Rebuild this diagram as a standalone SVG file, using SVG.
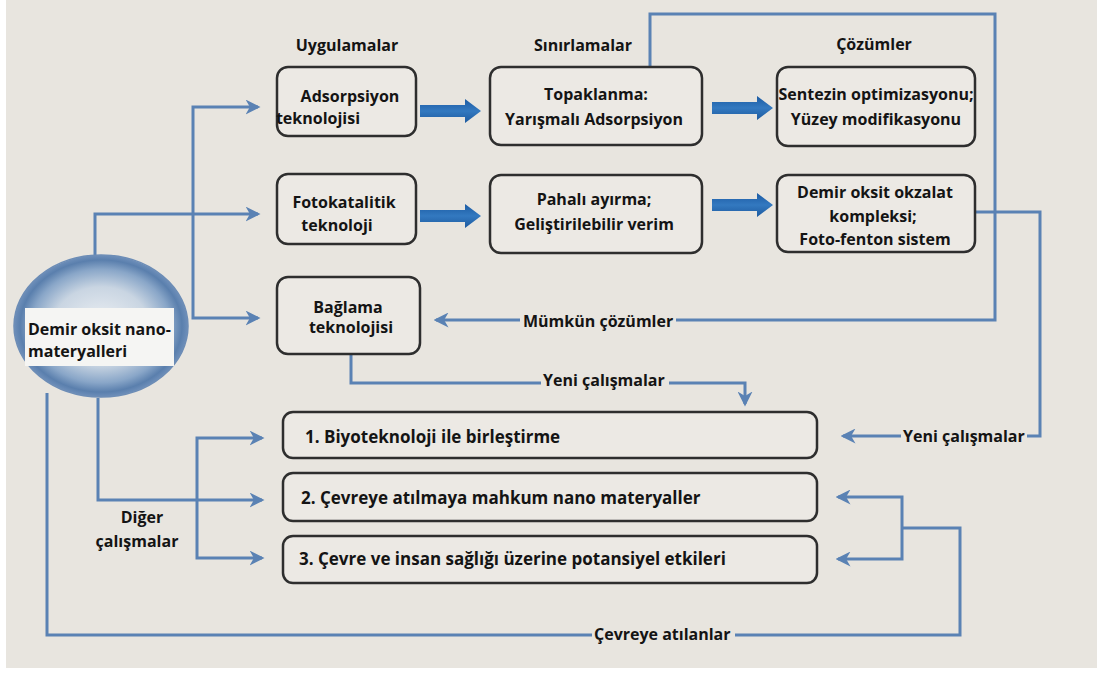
<svg xmlns="http://www.w3.org/2000/svg" width="1099" height="673" viewBox="0 0 1099 673">
<defs>
<style>
.t{font-family:"Open Sans","Liberation Sans",sans-serif;font-weight:bold;font-size:16px;fill:#141414}
.b{font-size:17px}
.c{text-anchor:middle}
.box{fill:#ece9e4;stroke:#2e2e2e;stroke-width:2.5}
.ln{fill:none;stroke:#5a82b4;stroke-width:3}
.ar{marker-end:url(#ah)}
.as{marker-start:url(#ah)}
.lb{fill:#e8e5df}
</style>
<marker id="ah" viewBox="0 0 12 12" refX="10" refY="6" markerWidth="5" markerHeight="5" markerUnits="strokeWidth" orient="auto-start-reverse">
<path d="M0,0 L12,6 L0,12 L3.5,6 Z" fill="#5a82b4"/>
</marker>
<linearGradient id="bg" x1="0" y1="0" x2="0" y2="1">
<stop offset="0" stop-color="#1c5ba3"/>
<stop offset="0.5" stop-color="#3379c0"/>
<stop offset="1" stop-color="#1d5a9f"/>
</linearGradient>
<path id="big" d="M0,-6 H45 V-12 L61,0 L45,12 V6 H0 Z" fill="url(#bg)"/>
<radialGradient id="eg" cx="0.5" cy="0.5" r="0.5">
<stop offset="0" stop-color="#eef1f4"/>
<stop offset="0.55" stop-color="#c9d5e2"/>
<stop offset="0.8" stop-color="#89a6c8"/>
<stop offset="0.93" stop-color="#5a7fad"/>
<stop offset="1" stop-color="#6e8fba"/>
</radialGradient>
</defs>
<rect x="0" y="0" width="1099" height="673" fill="#ffffff"/>
<rect x="6" y="0" width="1091" height="668" fill="#e8e5df"/>

<g id="connectors">
<polyline class="ln ar" points="95,258 95,214 258,214"/>
<polyline class="ln ar as" points="258,107 193,107 193,318 258,318"/>
<polyline class="ln ar" points="650,67 650,14 995,14 995,320 436,320"/>
<polyline class="ln ar" points="976,212 1040,212 1040,436 843,436"/>
<polyline class="ln ar" points="351,355 351,383 745,383 745,404"/>
<polyline class="ln ar" points="98,398 98,500 262,500"/>
<polyline class="ln ar as" points="262,438 197,438 197,558 262,558"/>
<polyline class="ln" points="47,393 47,635 960,635 960,528 902,528"/>
<polyline class="ln ar as" points="838,497 902,497 902,559 838,559"/>
<use href="#big" x="420" y="111"/>
<use href="#big" x="420" y="216"/>
<use href="#big" x="712" y="108"/>
<use href="#big" x="712" y="205"/>
</g>

<g id="headers">
<text class="t c" x="347" y="51">Uygulamalar</text>
<text class="t c" x="583" y="51">Sınırlamalar</text>
<text class="t c" x="874" y="50">Çözümler</text>
</g>

<g id="node-iron">
<ellipse cx="101" cy="326" rx="87" ry="71" fill="url(#eg)" stroke="#6d8db6" stroke-width="1.5"/>
<rect x="25" y="308" width="149" height="58" fill="#f5f5f3"/>
<text class="t" x="28" y="335">Demir oksit nano-</text>
<text class="t" x="28" y="357">materyalleri</text>
</g>

<g id="node-adsorpsiyon">
<rect class="box" x="277" y="67" width="139" height="69" rx="11"/>
<text class="t c" x="350" y="102">Adsorpsiyon</text>
<text class="t c" x="318" y="124">teknolojisi</text>
</g>
<g id="node-fotokatalitik">
<rect class="box" x="277" y="174" width="139" height="70" rx="11"/>
<text class="t c" x="344" y="208">Fotokatalitik</text>
<text class="t c" x="337" y="231">teknoloji</text>
</g>
<g id="node-baglama">
<rect class="box" x="277" y="277" width="143" height="77" rx="11"/>
<text class="t c" x="348" y="313">Bağlama</text>
<text class="t c" x="351" y="333">teknolojisi</text>
</g>

<g id="node-topaklanma">
<rect class="box" x="490" y="67" width="212" height="78" rx="11"/>
<text class="t c" x="596" y="100">Topaklanma:</text>
<text class="t c" x="594" y="125">Yarışmalı Adsorpsiyon</text>
</g>
<g id="node-pahali">
<rect class="box" x="490" y="175" width="212" height="78" rx="11"/>
<text class="t c" x="594" y="205">Pahalı ayırma;</text>
<text class="t c" x="594" y="230">Geliştirilebilir verim</text>
</g>

<g id="node-sentez">
<rect class="box" x="777" y="67" width="198" height="79" rx="11"/>
<text class="t c" x="876" y="100">Sentezin optimizasyonu;</text>
<text class="t c" x="876" y="125">Yüzey modifikasyonu</text>
</g>
<g id="node-okzalat">
<rect class="box" x="777" y="175" width="198" height="77" rx="11"/>
<text class="t c" x="875" y="198">Demir oksit okzalat</text>
<text class="t c" x="873" y="222">kompleksi;</text>
<text class="t c" x="875" y="245">Foto-fenton sistem</text>
</g>

<g id="node-bio">
<rect class="box" x="283" y="412" width="534" height="46" rx="10"/>
<text class="t b" x="305" y="443">1. Biyoteknoloji ile birleştirme</text>
</g>
<g id="node-cevreye">
<rect class="box" x="283" y="473" width="534" height="48" rx="10"/>
<text class="t b" x="301" y="504">2. Çevreye atılmaya mahkum nano materyaller</text>
</g>
<g id="node-saglik">
<rect class="box" x="283" y="536" width="534" height="47" rx="10"/>
<text class="t b" x="299" y="565">3. Çevre ve insan sağlığı üzerine potansiyel etkileri</text>
</g>

<g id="labels">
<rect class="lb" x="520" y="310" width="156" height="22"/>
<text class="t" x="523" y="327">Mümkün çözümler</text>
<rect class="lb" x="541" y="370" width="128" height="22"/>
<text class="t" x="543" y="386">Yeni çalışmalar</text>
<rect class="lb" x="901" y="426" width="126" height="22"/>
<text class="t" x="903" y="442">Yeni çalışmalar</text>
<rect class="lb" x="592" y="624" width="143" height="22"/>
<text class="t" x="594" y="640">Çevreye atılanlar</text>
<text class="t c" x="142" y="523">Diğer</text>
<text class="t c" x="137" y="547">çalışmalar</text>
</g>
</svg>
